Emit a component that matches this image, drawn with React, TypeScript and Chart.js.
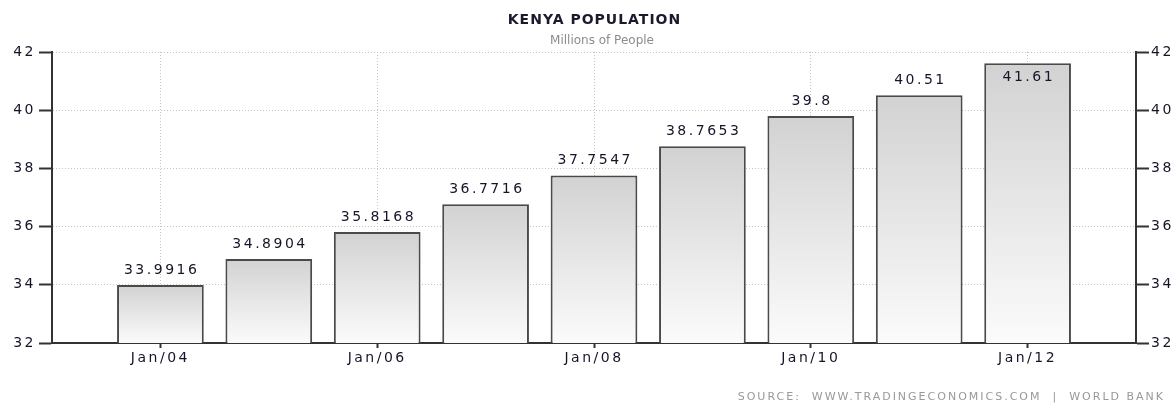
import React, { useEffect, useRef } from 'react';
import { Chart, registerables } from 'chart.js';

Chart.register(...registerables);

const years = [2004, 2005, 2006, 2007, 2008, 2009, 2010, 2011, 2012];
const population = [33.9916, 34.8904, 35.8168, 36.7716, 37.7547, 38.7653, 39.8, 40.51, 41.61];
const valueLabels = ['33.9916', '34.8904', '35.8168', '36.7716', '37.7547', '38.7653', '39.8', '40.51', '41.61'];
const xTickYears = [2004, 2006, 2008, 2010, 2012];
const yMin = 32;
const yMax = 42;
const yStep = 2;
const titleText = 'KENYA POPULATION';
const subtitleText = 'Millions of People';
const sourceText = 'SOURCE:  WWW.TRADINGECONOMICS.COM  |  WORLD BANK';

const FONT = '"DejaVu Sans", Verdana, sans-serif';
const TEXT = '#15152a';
const AXIS = '#333333';
const GRID = '#c4c4c4';

const textPlugin = {
  id: 'textPlugin',
  beforeDraw(chart: any) {
    (chart.ctx as any).letterSpacing = '2.5px';
  },
  afterDraw(chart: any) {
    const ctx = chart.ctx as any;
    const area = chart.chartArea;
    const yScale = chart.scales.y;
    const xScale = chart.scales.x;
    ctx.save();
    // value labels
    ctx.letterSpacing = '2.5px';
    ctx.font = '14px ' + FONT;
    ctx.fillStyle = TEXT;
    ctx.textAlign = 'center';
    ctx.textBaseline = 'middle';
    population.forEach((v, i) => {
      const x = xScale.getPixelForValue(years[i]);
      const top = yScale.getPixelForValue(v);
      let y = top - 15;
      if (y < area.top + 8) y = top + 14;
      ctx.fillText(valueLabels[i], x + 1.25, y);
    });
    // title
    const cx = (area.left + area.right) / 2;
    ctx.letterSpacing = '1px';
    ctx.font = 'bold 14px ' + FONT;
    ctx.fillStyle = '#1a1a2e';
    ctx.fillText(titleText, cx + 0.5, 20);
    ctx.letterSpacing = '0px';
    ctx.font = '12px ' + FONT;
    ctx.fillStyle = '#8c8c8c';
    ctx.fillText(subtitleText, cx + 8, 41);
    // source
    ctx.letterSpacing = '2px';
    ctx.font = '11px ' + FONT;
    ctx.fillStyle = '#999999';
    ctx.textAlign = 'right';
    ctx.fillText(sourceText, 1165, 397);
    ctx.restore();
    ctx.letterSpacing = '0px';
  },
};

export default function App() {
  const ref = useRef<HTMLCanvasElement | null>(null);
  useEffect(() => {
    if (!ref.current) return;
    const chart = new Chart(ref.current, {
      type: 'bar',
      data: {
        datasets: [
          {
            label: 'Kenya Population',
            data: years.map((y, i) => ({ x: y, y: population[i] })),
            backgroundColor: (c: any) => {
              const chart = c.chart;
              const area = chart.chartArea;
              if (!area || !c.parsed) return '#dddddd';
              const top = chart.scales.y.getPixelForValue(c.parsed.y);
              const g = chart.ctx.createLinearGradient(0, top, 0, area.bottom);
              g.addColorStop(0, '#d2d2d2');
              g.addColorStop(1, '#fbfbfb');
              return g;
            },
            borderColor: '#4a4a4a',
            borderWidth: 2,
            borderSkipped: 'bottom',
            categoryPercentage: 1,
            barPercentage: 0.8,
          } as any,
        ],
      },
      options: {
        animation: false,
        responsive: false,
        devicePixelRatio: 1,
        layout: { padding: { top: 52, left: 0, right: 0, bottom: 0 } },
        plugins: {
          legend: { display: false },
          title: { display: false },
          tooltip: { enabled: false },
        },
        scales: {
          x: {
            type: 'linear',
            min: 2003,
            max: 2013,
            offset: false,
            afterBuildTicks: (scale: any) => {
              scale.ticks = xTickYears.map((v) => ({ value: v }));
            },
            afterFit: (scale: any) => {
              scale.height = 60;
            },
            grid: {
              offset: false,
              color: GRID,
              lineWidth: 1,
              drawTicks: true,
              tickLength: 5,
              tickColor: AXIS,
              tickWidth: 2,
            },
            border: { display: true, color: AXIS, width: 2, dash: [1, 2] },
            ticks: {
              padding: 2,
              color: TEXT,
              font: { family: FONT, size: 14 },
              maxRotation: 0,
              autoSkip: false,
              callback: (v: any) => 'Jan/' + String(Number(v) % 100).padStart(2, '0'),
            },
          } as any,
          y: {
            position: 'left',
            min: yMin,
            max: yMax,
            afterFit: (scale: any) => {
              scale.width = 52;
            },
            grid: {
              color: GRID,
              lineWidth: 1,
              drawTicks: true,
              tickLength: 13,
              tickColor: AXIS,
              tickWidth: 2,
            },
            border: { display: true, color: AXIS, width: 2, dash: [1, 2] },
            ticks: {
              stepSize: yStep,
              padding: 3,
              color: TEXT,
              font: { family: FONT, size: 14 },
            },
          } as any,
          y2: {
            position: 'right',
            min: yMin,
            max: yMax,
            afterFit: (scale: any) => {
              scale.width = 40;
            },
            grid: {
              drawOnChartArea: false,
              drawTicks: true,
              tickLength: 13,
              tickColor: AXIS,
              tickWidth: 2,
            },
            border: { display: true, color: AXIS, width: 2 },
            ticks: {
              stepSize: yStep,
              padding: 2,
              color: TEXT,
              font: { family: FONT, size: 14 },
            },
          } as any,
        },
      },
      plugins: [textPlugin],
    } as any);
    return () => chart.destroy();
  }, []);
  return (
    <div style={{ position: 'fixed', left: 0, top: 0, width: 1176, height: 403, background: '#fff' }}>
      <canvas ref={ref} width={1176} height={403} style={{ width: 1176, height: 403, display: 'block' }} />
    </div>
  );
}
